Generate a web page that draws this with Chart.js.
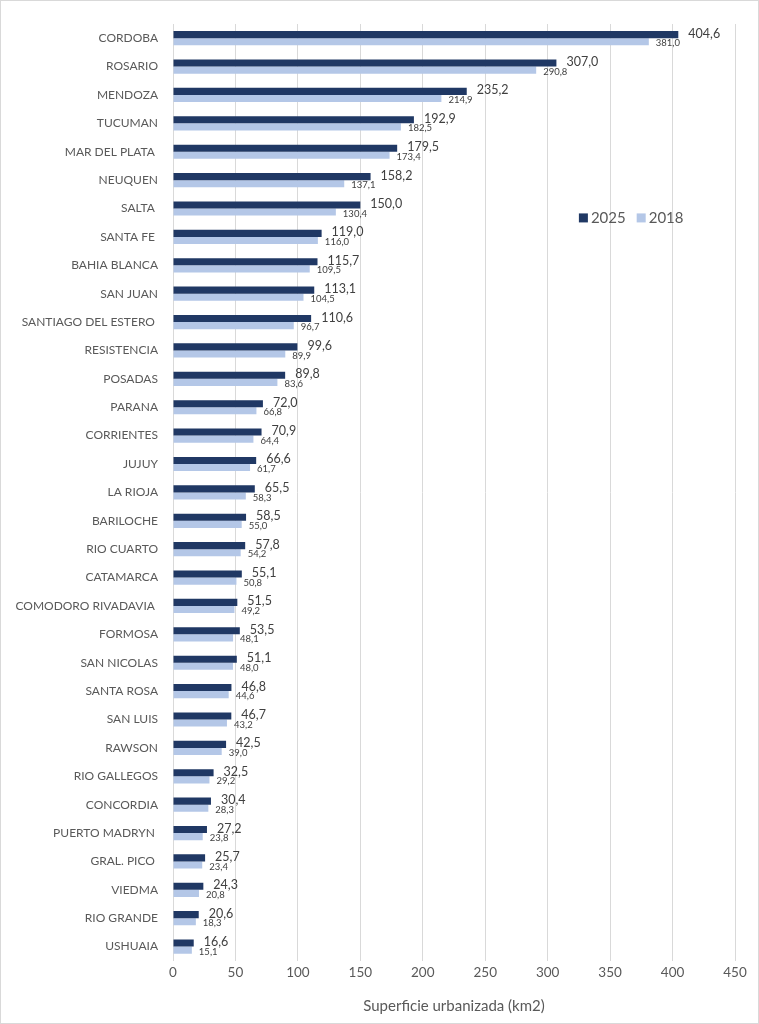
<!DOCTYPE html>
<html>
<head>
<meta charset="utf-8">
<script src="https://cdn.jsdelivr.net/npm/chart.js@4.4.1/dist/chart.umd.min.js"></script>
<style>
  html, body { margin: 0; padding: 0; background: #fff; }
  #wrap { position: relative; width: 759px; height: 1024px; box-sizing: border-box; border: 1px solid #d9d9d9; }
  canvas { display: block; }
</style>
</head>
<body>
<div id="wrap"><canvas id="c"></canvas></div>
<script>
const categories = ["CORDOBA","ROSARIO","MENDOZA","TUCUMAN","MAR DEL PLATA ","NEUQUEN","SALTA ","SANTA FE ","BAHIA BLANCA","SAN JUAN","SANTIAGO DEL ESTERO ","RESISTENCIA","POSADAS","PARANA","CORRIENTES","JUJUY","LA RIOJA","BARILOCHE","RIO CUARTO","CATAMARCA","COMODORO RIVADAVIA ","FORMOSA","SAN NICOLAS","SANTA ROSA","SAN LUIS","RAWSON","RIO GALLEGOS","CONCORDIA","PUERTO MADRYN ","GRAL. PICO ","VIEDMA","RIO GRANDE","USHUAIA"];
const values2025 = [404.6,307.0,235.2,192.9,179.5,158.2,150.0,119.0,115.7,113.1,110.6,99.6,89.8,72.0,70.9,66.6,65.5,58.5,57.8,55.1,51.5,53.5,51.1,46.8,46.7,42.5,32.5,30.4,27.2,25.7,24.3,20.6,16.6];
const values2018 = [381.0,290.8,214.9,182.5,173.4,137.1,130.4,116.0,109.5,104.5,96.7,89.9,83.6,66.8,64.4,61.7,58.3,55.0,54.2,50.8,49.2,48.1,48.0,44.6,43.2,39.0,29.2,28.3,23.8,23.4,20.8,18.3,15.1];
const seriesNames = ["2025","2018"];
const xTicks = [0,50,100,150,200,250,300,350,400,450];

const FONT = "Lato, 'Open Sans', sans-serif";
const COL_DARK = "#203864";
const COL_LIGHT = "#b4c7e7";
const TXT = "#595959";

const fmt = v => v.toFixed(1).replace(".", ",");

const labelPlugin = {
  id: "valLabels",
  afterDatasetsDraw(chart) {
    const ctx = chart.ctx;
    ctx.save();
    ctx.fillStyle = "#404040";
    ctx.textAlign = "left";
    ctx.textBaseline = "middle";
    chart.data.datasets.forEach((ds, di) => {
      const meta = chart.getDatasetMeta(di);
      ctx.font = (di === 0 ? "12.5px " : "9.5px ") + FONT;
      meta.data.forEach((bar, i) => {
        const off = di === 0 ? 10 : 7;
        const dy = di === 0 ? -1 : 1.5;
        ctx.fillText(fmt(ds.data[i]), bar.x + off, bar.y + dy);
      });
    });
    ctx.restore();
  }
};

const legendPlugin = {
  id: "customLegend",
  afterDraw(chart) {
    const ctx = chart.ctx;
    const ca = chart.chartArea;
    const xs = chart.scales.x;
    const x0 = xs.getPixelForValue(325) + 0;
    const y0 = ca.top + (ca.bottom - ca.top) * 0.207;
    ctx.save();
    ctx.font = "15px " + FONT;
    ctx.textBaseline = "middle";
    ctx.textAlign = "left";
    let x = x0;
    chart.data.datasets.forEach((ds, di) => {
      ctx.fillStyle = ds.backgroundColor;
      ctx.fillRect(x, y0 - 4.5, 9, 9);
      ctx.fillStyle = TXT;
      ctx.fillText(seriesNames[di], x + 12, y0);
      x += 12 + ctx.measureText(seriesNames[di]).width + 11;
    });
    ctx.restore();
  }
};

new Chart(document.getElementById("c"), {
  type: "bar",
  data: {
    labels: categories,
    datasets: [
      { label: seriesNames[0], data: values2025, backgroundColor: COL_DARK, borderColor: COL_DARK, borderWidth: 0, categoryPercentage: 0.5, barPercentage: 1.0 },
      { label: seriesNames[1], data: values2018, backgroundColor: COL_LIGHT, borderColor: COL_LIGHT, borderWidth: 0, categoryPercentage: 0.5, barPercentage: 1.0 }
    ]
  },
  options: {
    indexAxis: "y",
    responsive: true,
    maintainAspectRatio: false,
    animation: false,
    layout: { padding: { left: 0, right: 23, top: 23, bottom: 8 } },
    plugins: {
      legend: { display: false },
      tooltip: { enabled: false }
    },
    scales: {
      x: {
        min: 0, max: 450,
        afterBuildTicks: s => { s.ticks = xTicks.map(v => ({ value: v })); },
        grid: { color: "#d9d9d9", lineWidth: 1, drawTicks: false },
        border: { display: false },
        ticks: { color: TXT, font: { family: FONT, size: 13.5 }, padding: 4 },
        title: { display: true, text: "Superficie urbanizada (km2)", color: TXT, font: { family: FONT, size: 15 }, padding: { top: 12, bottom: 0 } }
      },
      y: {
        grid: { display: false, drawTicks: false },
        border: { display: false },
        afterFit: s => { s.width = 172; },
        ticks: { color: TXT, font: { family: FONT, size: 12 }, padding: 15, autoSkip: false }
      }
    }
  },
  plugins: [labelPlugin, legendPlugin]
});
</script>
</body>
</html>
